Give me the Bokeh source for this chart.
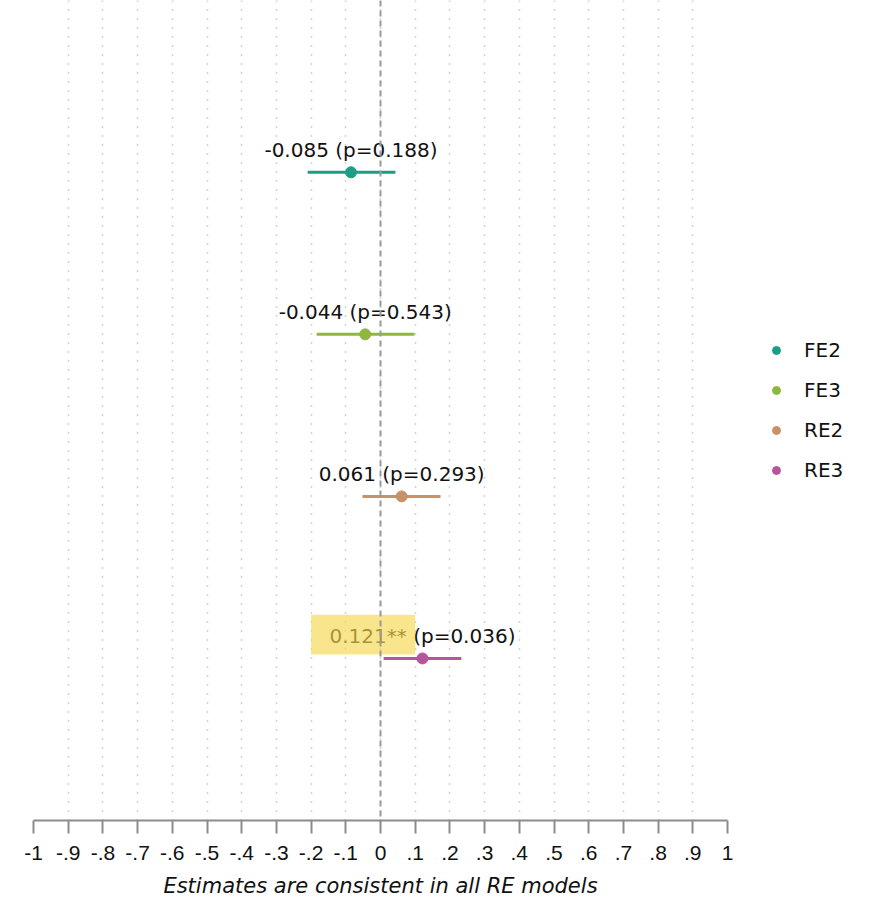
from bokeh.plotting import figure
from bokeh.models import (Range1d, FixedTicker, Span, Legend, LegendItem,
                          ColumnDataSource)
from bokeh.core.properties import value
from bokeh.embed import file_html
from bokeh.resources import INLINE

# Model estimates with confidence intervals
models = ["FE2", "FE3", "RE2", "RE3"]
estimates = [-0.085, -0.044, 0.061, 0.121]
ci_low = [-0.21, -0.184, -0.052, 0.009]
ci_high = [0.043, 0.098, 0.173, 0.233]
p_values = [0.188, 0.543, 0.293, 0.036]
stars = ["", "", "", "**"]
colors = ["#1a9e85", "#8db840", "#c8916a", "#b5569b"]

tick_values = [round(-1 + 0.1 * i, 1) for i in range(21)]
tick_labels = ["-1", "-.9", "-.8", "-.7", "-.6", "-.5", "-.4", "-.3", "-.2", "-.1",
               "0", ".1", ".2", ".3", ".4", ".5", ".6", ".7", ".8", ".9", "1"]

axis_title = "Estimates are consistent in all RE models"

# highlighted significant estimate (RE3)
highlight_x = (-0.2, 0.1)

FONT = "DejaVu Sans"
TICK_FONT = "Liberation Sans"

n = len(models)
ypos = [n - i for i in range(n)]  # FE2 at top
labels = [f"{e:.3f}{s} (p={p:.3f})" for e, s, p in zip(estimates, stars, p_values)]

p = figure(frame_width=694, frame_height=820, output_backend="svg",
           toolbar_location=None,
           x_range=Range1d(-1, 1), y_range=Range1d(0, 5.06),
           min_border_left=33, min_border_right=142, min_border_top=0,
           min_border_bottom=79, y_axis_location=None)
p.outline_line_color = None
p.background_fill_color = "white"
p.border_fill_color = "white"

# x axis
p.xaxis.ticker = FixedTicker(ticks=tick_values)
p.xaxis.major_label_overrides = {v: l for v, l in zip(tick_values, tick_labels)}
p.xaxis.major_label_text_font = TICK_FONT
p.xaxis.major_label_text_font_size = "21px"
p.xaxis.major_label_text_color = "#111111"
p.xaxis.major_label_standoff = 12
p.xaxis.major_tick_out = 13
p.xaxis.major_tick_in = 0
p.xaxis.minor_tick_out = 0
p.xaxis.major_tick_line_color = "#8c8c8c"
p.xaxis.major_tick_line_width = 2
p.xaxis.axis_line_color = "#8c8c8c"
p.xaxis.axis_line_width = 2
p.xaxis.axis_label = axis_title
p.xaxis.axis_label_text_font = FONT
p.xaxis.axis_label_text_font_style = "italic"
p.xaxis.axis_label_text_font_size = "21px"
p.xaxis.axis_label_text_color = "#111111"
p.xaxis.axis_label_standoff = 11

# grid
p.ygrid.visible = False
p.xgrid.ticker = FixedTicker(ticks=tick_values)
p.xgrid.grid_line_color = "#a8a8a8"
p.xgrid.grid_line_dash = "1 8"
p.xgrid.grid_line_width = 1.5

# confidence intervals and point estimates
src = ColumnDataSource(dict(y=ypos, est=estimates, lo=ci_low, hi=ci_high,
                            color=colors, label=labels, model=models))
p.segment(x0="lo", x1="hi", y0="y", y1="y", line_color="color", line_width=3,
          source=src)

legend_items = []
for i, m in enumerate(models):
    r = p.scatter(x=[estimates[i]], y=[ypos[i]], size=11, marker="circle",
                  fill_color=colors[i], line_color=colors[i])
    legend_items.append(LegendItem(label=m, renderers=[r]))

p.text(x="est", y="y", text="label", source=src, text_align="center",
       text_baseline="bottom", y_offset=-10, text_font=value(FONT),
       text_font_size="20px", text_color="#111111")

# highlight box over the significant estimate
p.quad(left=highlight_x[0], right=highlight_x[1], bottom=ypos[3] + 0.025,
       top=ypos[3] + 0.27, fill_color="#f6d74e", fill_alpha=0.65,
       line_color=None)

# zero reference line
p.add_layout(Span(location=0, dimension="height", line_color="#9a9a9a",
                  line_dash="6 4", line_width=2))

legend = Legend(items=legend_items, location="center_left", border_line_color=None,
                background_fill_alpha=0, label_text_font=FONT,
                label_text_font_size="20px", label_text_color="#111111",
                glyph_width=20, glyph_height=20, label_height=20, spacing=16,
                label_standoff=18, padding=0, margin=39)
p.add_layout(legend, "right")

open("out.html", "w").write(file_html(p, INLINE))
